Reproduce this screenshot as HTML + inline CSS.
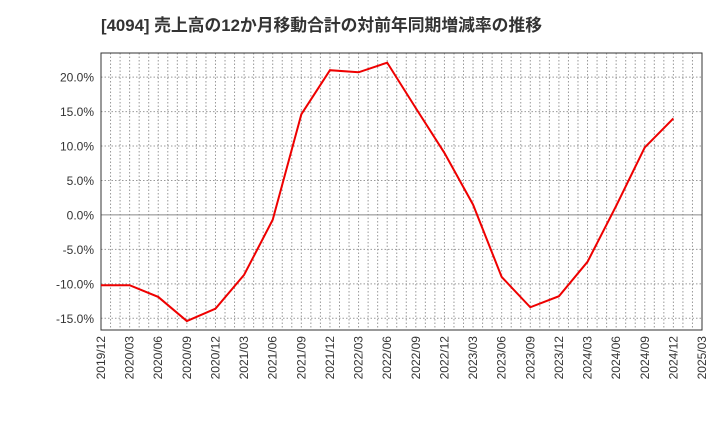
<!DOCTYPE html>
<html><head><meta charset="utf-8"><style>
body{margin:0;background:#fff;}
svg text{font-family:"Liberation Sans","Noto Sans CJK JP",sans-serif;fill:#333;}
</style></head><body>
<svg id="chart" width="720" height="440" xmlns="http://www.w3.org/2000/svg">
<text x="101" y="31" font-size="16.8" font-weight="bold">[4094]  売上高の12か月移動合計の対前年同期増減率の推移</text>
<g id="grid"></g><g id="axes"></g><g id="series"></g>
</svg>
<script>
const categories=["2019/12","2020/03","2020/06","2020/09","2020/12","2021/03","2021/06","2021/09","2021/12","2022/03","2022/06","2022/09","2022/12","2023/03","2023/06","2023/09","2023/12","2024/03","2024/06","2024/09","2024/12","2025/03"];
const values=[-10.2,-10.2,-11.9,-15.4,-13.6,-8.7,-0.7,14.6,21.0,20.7,22.1,15.5,9.0,1.5,-9.0,-13.4,-11.8,-6.8,1.3,9.8,14.0];
const yTicks=[20,15,10,5,0,-5,-10,-15];
const L=101,R=702,T=53,B=330,yMax=23.5,yMin=-16.7;
const NS="http://www.w3.org/2000/svg";
const x=i=>L+(R-L)*i/(categories.length-1);
const xm=m=>L+(R-L)*m/((categories.length-1)*3);
const y=v=>T+(yMax-v)/(yMax-yMin)*(B-T);
function mk(p,t,a){const e=document.createElementNS(NS,t);for(const k in a)e.setAttribute(k,a[k]);p.appendChild(e);return e;}
const grid=document.getElementById('grid'),axes=document.getElementById('axes'),series=document.getElementById('series');
for(let m=1;m<(categories.length-1)*3;m++){
 const l=mk(grid,'line',{x1:xm(m),x2:xm(m),y1:T,y2:B,stroke:'#999','stroke-dasharray':'1.5,2','stroke-width':1});
 
 
}
yTicks.forEach(v=>{
 const l=mk(grid,'line',{x1:L,x2:R,y1:y(v),y2:y(v),stroke:v===0?'#888':'#999','stroke-dasharray':v===0?'none':'1.5,2','stroke-width':1});
 
 
 const t=mk(axes,'text',{x:L-7,y:y(v)+4.5,'text-anchor':'end','font-size':12});
 t.textContent=v.toFixed(1)+'%';
 
 
});
categories.forEach((c,i)=>{
 const t=mk(axes,'text',{transform:`translate(${x(i)+4},${B+6}) rotate(-90)`,'text-anchor':'end','font-size':12});
 t.textContent=c;
 
 
});
const f=mk(axes,'rect',{x:L,y:T,width:R-L,height:B-T,fill:'none',stroke:'#333','stroke-width':1});


const pl=mk(series,'polyline',{points:values.map((v,i)=>x(i)+','+y(v)).join(' '),fill:'none',stroke:'#e00','stroke-width':2});


</script>
</body></html>
